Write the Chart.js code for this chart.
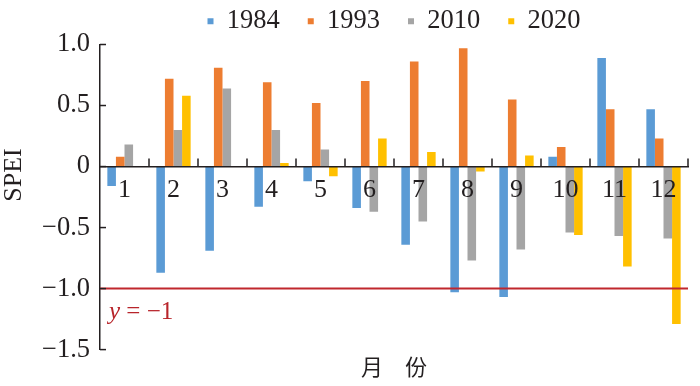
<!DOCTYPE html>
<html>
<head>
<meta charset="utf-8">
<script src="https://cdn.jsdelivr.net/npm/chart.js@4.4.1/dist/chart.umd.min.js"></script>
<style>
  html, body { margin: 0; padding: 0; background: #fff; }
  #wrap { width: 700px; height: 386px; }
</style>
</head>
<body>
<div id="wrap"><canvas id="chart"></canvas></div>
<script>
// --- DATA ---
const months = ['1', '2', '3', '4', '5', '6', '7', '8', '9', '10', '11', '12'];
const years = ['1984', '1993', '2010', '2020'];
const spei1984 = [-0.16, -0.87, -0.69, -0.33, -0.12, -0.34, -0.64, -1.03, -1.07, 0.08, 0.89, 0.47];
const spei1993 = [0.08, 0.72, 0.81, 0.69, 0.52, 0.70, 0.86, 0.97, 0.55, 0.16, 0.47, 0.23];
const spei2010 = [0.18, 0.30, 0.64, 0.30, 0.14, -0.37, -0.45, -0.77, -0.68, -0.54, -0.57, -0.59];
const spei2020 = [0, 0.58, 0, 0.03, -0.08, 0.23, 0.12, -0.04, 0.09, -0.56, -0.82, -1.29];
const yTicks = [1.0, 0.5, 0, -0.5, -1.0, -1.5];
const threshold = -1;

const colors = ['#5b9bd5', '#ed7d31', '#a5a5a5', '#ffc000'];
const serif = "'Liberation Serif', 'DejaVu Serif', serif";
const ink = '#231f20';

function fmt(v) {
    if (v === 0) return '0';
    const s = Math.abs(v).toFixed(1);
    return v < 0 ? '\u2212' + s : s;
}

// threshold line, inward ticks and the y title
const extras = {
    id: 'extras',
    afterDatasetsDraw(chart) {
        const { ctx, chartArea: a, scales: { y } } = chart;
        ctx.save();

        // y = -1 line
        const yr = y.getPixelForValue(threshold);
        ctx.strokeStyle = '#c0272d';
        ctx.lineWidth = 2;
        ctx.beginPath();
        ctx.moveTo(a.left, yr);
        ctx.lineTo(a.right, yr);
        ctx.stroke();

        ctx.fillStyle = '#b8252b';
        ctx.textBaseline = 'middle';
        ctx.textAlign = 'left';
        ctx.font = 'italic 25px ' + serif;
        ctx.fillText('y', a.left + 9, yr + 24);
        const w = ctx.measureText('y ').width;
        ctx.font = '25px ' + serif;
        ctx.fillText('= \u22121', a.left + 9 + w, yr + 24);

        // ticks on the x axis (category boundaries, pointing up)
        ctx.strokeStyle = ink;
        ctx.lineWidth = 1.5;
        const y0 = y.getPixelForValue(0);
        const step = (a.right - a.left) / months.length;
        for (let i = 1; i <= months.length; i++) {
            const px = a.left + i * step;
            ctx.beginPath();
            ctx.moveTo(px, y0);
            ctx.lineTo(px, y0 - 8);
            ctx.stroke();
        }
        // ticks on the y axis (pointing right)
        yTicks.forEach(v => {
            const py = y.getPixelForValue(v);
            ctx.beginPath();
            ctx.moveTo(a.left, py);
            ctx.lineTo(a.left + 6, py);
            ctx.stroke();
        });

        // y title
        ctx.fillStyle = ink;
        ctx.font = '26px ' + serif;
        ctx.textAlign = 'center';
        ctx.translate(14, 175);
        ctx.rotate(-Math.PI / 2);
        ctx.fillText('SPEI', 0, 0);
        ctx.restore();
    }
};

const ctx = document.getElementById('chart').getContext('2d');
const chart = new Chart(ctx, {
    type: 'bar',
    data: {
        labels: months,
        datasets: [
            { label: years[0], data: spei1984, backgroundColor: colors[0] },
            { label: years[1], data: spei1993, backgroundColor: colors[1] },
            { label: years[2], data: spei2010, backgroundColor: colors[2] },
            { label: years[3], data: spei2020, backgroundColor: colors[3] }
        ]
    },
    options: {
        responsive: true,
        maintainAspectRatio: false,
        animation: false,
        datasets: { bar: { categoryPercentage: 0.7, barPercentage: 1.0 } },
        layout: { padding: { left: 0, right: 12, top: -20, bottom: 0 } },
        scales: {
            x: {
                position: { y: 0 },
                grid: { display: true, drawOnChartArea: false, drawTicks: false },
                border: { display: true, color: ink, width: 1.5, z: 1 },
                ticks: { color: ink, font: { family: serif, size: 26 }, padding: 8, z: 2 }
            },
            y: {
                min: -1.5,
                max: 1.0,
                afterBuildTicks: s => { s.ticks = yTicks.map(v => ({ value: v })); },
                afterFit: s => { s.width = 100; },
                grid: { display: true, drawOnChartArea: false, drawTicks: false },
                border: { display: true, color: ink, width: 1.5 },
                ticks: {
                    color: ink,
                    font: { family: serif, size: 26.5 },
                    padding: 10,
                    callback: v => fmt(v)
                }
            }
        },
        plugins: {
            legend: {
                position: 'top',
                fullSize: false,
                labels: {
                    color: ink,
                    font: { family: serif, size: 26.5 },
                    boxWidth: 6,
                    boxHeight: 6,
                    padding: 28
                }
            },
            title: {
                display: true,
                position: 'bottom',
                fullSize: false,
                text: '月\u3000份',
                color: ink,
                font: { family: "'Noto Sans CJK SC', sans-serif", size: 22, weight: 'normal' },
                padding: { top: 4, bottom: 6 }
            },
            tooltip: { enabled: false }
        }
    },
    plugins: [extras]
});
</script>
</body>
</html>
